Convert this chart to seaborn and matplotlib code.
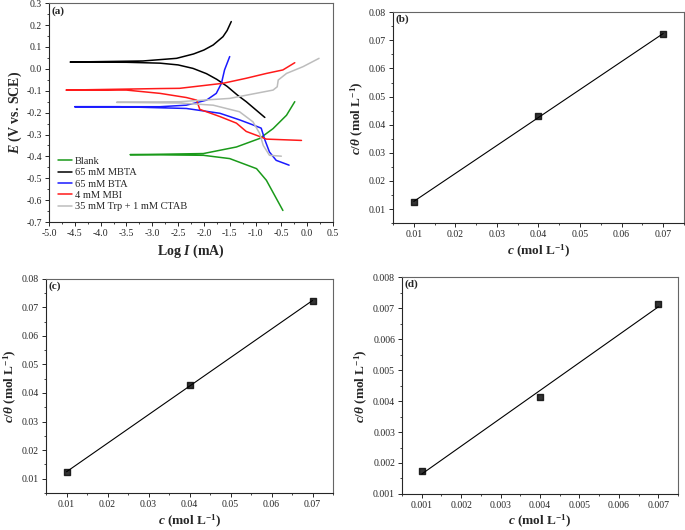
import numpy as np
import pandas as pd
import matplotlib
matplotlib.use("Agg")
import matplotlib.pyplot as plt
import seaborn as sns
from matplotlib.ticker import MultipleLocator, AutoMinorLocator

# Step 1: data
# (a) Tafel curves: anodic branch end -> E_corr tip -> cathodic branch end
blank_logi = [-0.24, -0.40, -0.66, -0.92, -1.37, -2.01, -2.80, -3.43,
              -2.80, -2.01, -1.50, -1.24, -0.98, -0.79, -0.63, -0.47]
blank_e = [-0.150, -0.212, -0.273, -0.318, -0.357, -0.387, -0.390, -0.392,
           -0.393, -0.395, -0.410, -0.433, -0.456, -0.509, -0.578, -0.647]

mbta_logi = [-1.47, -1.55, -1.63, -1.82, -2.00, -2.20, -2.53, -3.18, -4.59,
             -3.50, -2.85, -2.50, -2.21, -1.95, -1.75, -1.55, -1.35, -1.18, -1.00, -0.82]
mbta_e = [0.216, 0.175, 0.147, 0.109, 0.086, 0.068, 0.048, 0.036, 0.031,
          0.030, 0.026, 0.018, 0.002, -0.022, -0.048, -0.080, -0.120, -0.150, -0.186, -0.222]

bta_logi = [-1.50, -1.60, -1.66, -1.76, -1.95, -2.34, -2.85, -4.50,
            -3.63, -2.34, -1.69, -1.31, -1.05, -0.89, -0.82, -0.73, -0.60, -0.35]
bta_e = [0.056, -0.005, -0.066, -0.112, -0.143, -0.166, -0.173, -0.173,
         -0.173, -0.181, -0.203, -0.233, -0.256, -0.271, -0.324, -0.380, -0.418, -0.440]

mbi_logi = [-0.24, -0.47, -0.79, -1.18, -1.63, -2.47, -2.85, -4.67,
            -3.50, -2.85, -2.34, -2.14, -2.08, -1.69, -1.37, -1.18, -0.92, -0.79, -0.11]
mbi_e = [0.028, -0.005, -0.021, -0.043, -0.066, -0.089, -0.090, -0.097,
         -0.097, -0.112, -0.131, -0.143, -0.185, -0.218, -0.248, -0.286, -0.309, -0.321, -0.327]

trp_logi = [0.23, -0.08, -0.40, -0.56, -0.58, -0.66, -1.50, -2.47, -3.69,
            -2.47, -1.82, -1.31, -1.05, -0.92, -0.85, -0.73, -0.50]
trp_e = [0.048, 0.010, -0.021, -0.051, -0.082, -0.097, -0.135, -0.150, -0.153,
         -0.156, -0.166, -0.196, -0.242, -0.295, -0.350, -0.395, -0.399]

curve_names = ["Blank", "65 mM MBTA", "65 mM BTA", "4 mM MBI", "35 mM Trp + 1 mM CTAB"]
curve_colors = ["#1a9a1a", "black", "#1a1aff", "#ff1a1a", "#bdbdbd"]

# (b), (c), (d) isotherm points
c_b = [0.01, 0.04, 0.07]
ctheta_b = [0.0125, 0.0430, 0.0722]
c_c = [0.01, 0.04, 0.07]
ctheta_c = [0.0122, 0.0428, 0.0722]
c_d = [0.001, 0.004, 0.007]
ctheta_d = [0.00175, 0.00413, 0.00715]

# Step 2: style
sns.set_style("ticks")
plt.rcParams["font.family"] = ["Liberation Serif", "DejaVu Serif"]
plt.rcParams["mathtext.fontset"] = "custom"
plt.rcParams["mathtext.rm"] = "Liberation Serif:bold"
plt.rcParams["mathtext.it"] = "Liberation Serif:italic:bold"
plt.rcParams["mathtext.bf"] = "Liberation Serif:bold"
plt.rcParams["xtick.labelsize"] = 7
plt.rcParams["ytick.labelsize"] = 7
plt.rcParams["xtick.major.size"] = 3
plt.rcParams["ytick.major.size"] = 3
plt.rcParams["xtick.minor.size"] = 1.5
plt.rcParams["ytick.minor.size"] = 1.5
plt.rcParams["xtick.major.width"] = 0.7
plt.rcParams["ytick.major.width"] = 0.7
plt.rcParams["xtick.major.pad"] = 2
plt.rcParams["ytick.major.pad"] = 2
plt.rcParams["axes.linewidth"] = 0.8

fig = plt.figure(figsize=(6.85, 5.30), dpi=100)
ax_a = fig.add_axes([0.0715, 0.581, 0.4146, 0.413])
ax_b = fig.add_axes([0.5737, 0.579, 0.4248, 0.398])
ax_c = fig.add_axes([0.0672, 0.070, 0.419, 0.404])
ax_d = fig.add_axes([0.5869, 0.068, 0.403, 0.409])


def frame(ax):
    for side in ["top", "right"]:
        ax.spines[side].set_visible(True)
        ax.spines[side].set_color("#666666")
    ax.xaxis.set_minor_locator(AutoMinorLocator(2))
    ax.yaxis.set_minor_locator(AutoMinorLocator(2))


# Step 3: panel (a)
curves = [(blank_logi, blank_e), (mbta_logi, mbta_e), (bta_logi, bta_e),
          (mbi_logi, mbi_e), (trp_logi, trp_e)]
for (xs, ys), name, col in zip(curves, curve_names, curve_colors):
    df = pd.DataFrame({"logI": xs, "E": ys})
    sns.lineplot(data=df, x="logI", y="E", sort=False, estimator=None,
                 color=col, lw=1.1, label=name, ax=ax_a)
ax_a.set_xlim(-5.0, 0.5)
ax_a.set_ylim(-0.7, 0.3)
ax_a.xaxis.set_major_locator(MultipleLocator(0.5))
ax_a.yaxis.set_major_locator(MultipleLocator(0.1))
ax_a.set_xticklabels([f"{v:.1f}" for v in ax_a.get_xticks()])
ax_a.set_yticklabels([f"{v:.1f}" for v in ax_a.get_yticks()])
frame(ax_a)
ax_a.set_xlabel(r"Log $I$ (mA)", fontsize=10, fontweight="bold", labelpad=3)
ax_a.set_ylabel(r"$E$ (V vs. SCE)", fontsize=10, fontweight="bold", labelpad=2)
ax_a.legend(loc="lower left", frameon=False, fontsize=7.5, handlelength=1.3,
            handletextpad=0.3, labelspacing=0.2, borderaxespad=0.2,
            bbox_to_anchor=(0.01, 0.02))
ax_a.text(0.01, 0.985, "(a)", transform=ax_a.transAxes, fontsize=8,
          fontweight="bold", va="top")

# Step 4: panels (b), (c), (d)
iso = [(ax_b, c_b, ctheta_b, "(b)"), (ax_c, c_c, ctheta_c, "(c)"), (ax_d, c_d, ctheta_d, "(d)")]
for ax, xs, ys, tag in iso:
    sns.regplot(x=np.array(xs), y=np.array(ys), ci=None, marker="s", color="black",
                scatter_kws={"s": 14}, line_kws={"lw": 0.8}, ax=ax)
    frame(ax)
    ax.set_xlabel(r"$c$ (mol L$^{-1}$)", fontsize=9.5, fontweight="bold", labelpad=3)
    ax.set_ylabel(r"$c/\theta$ (mol L$^{-1}$)", fontsize=9.5, fontweight="bold", labelpad=2)
    ax.text(0.01, 0.99, tag, transform=ax.transAxes, fontsize=8,
            fontweight="bold", va="top")

for ax in (ax_b, ax_c):
    ax.set_xlim(0.005, 0.075)
    ax.set_ylim(0.005, 0.08)
    ax.set_xticks(np.arange(0.01, 0.0701, 0.01))
    ax.set_xticklabels([f"{v:.2f}" for v in ax.get_xticks()])
    ax.set_yticks(np.arange(0.01, 0.0801, 0.01))
    ax.set_yticklabels([f"{v:.2f}" for v in ax.get_yticks()])
    ax.xaxis.set_minor_locator(MultipleLocator(0.005))
    ax.yaxis.set_minor_locator(MultipleLocator(0.005))

ax_d.set_xlim(0.0005, 0.0075)
ax_d.set_ylim(0.001, 0.008)
ax_d.set_xticks(np.arange(0.001, 0.00701, 0.001))
ax_d.set_xticklabels([f"{v:.3f}" for v in ax_d.get_xticks()])
ax_d.set_yticks(np.arange(0.001, 0.00801, 0.001))
ax_d.set_yticklabels([f"{v:.3f}" for v in ax_d.get_yticks()])
ax_d.xaxis.set_minor_locator(MultipleLocator(0.0005))
ax_d.yaxis.set_minor_locator(MultipleLocator(0.0005))
ax_d.xaxis.labelpad = 2

fig.savefig("out.png", dpi=100)
